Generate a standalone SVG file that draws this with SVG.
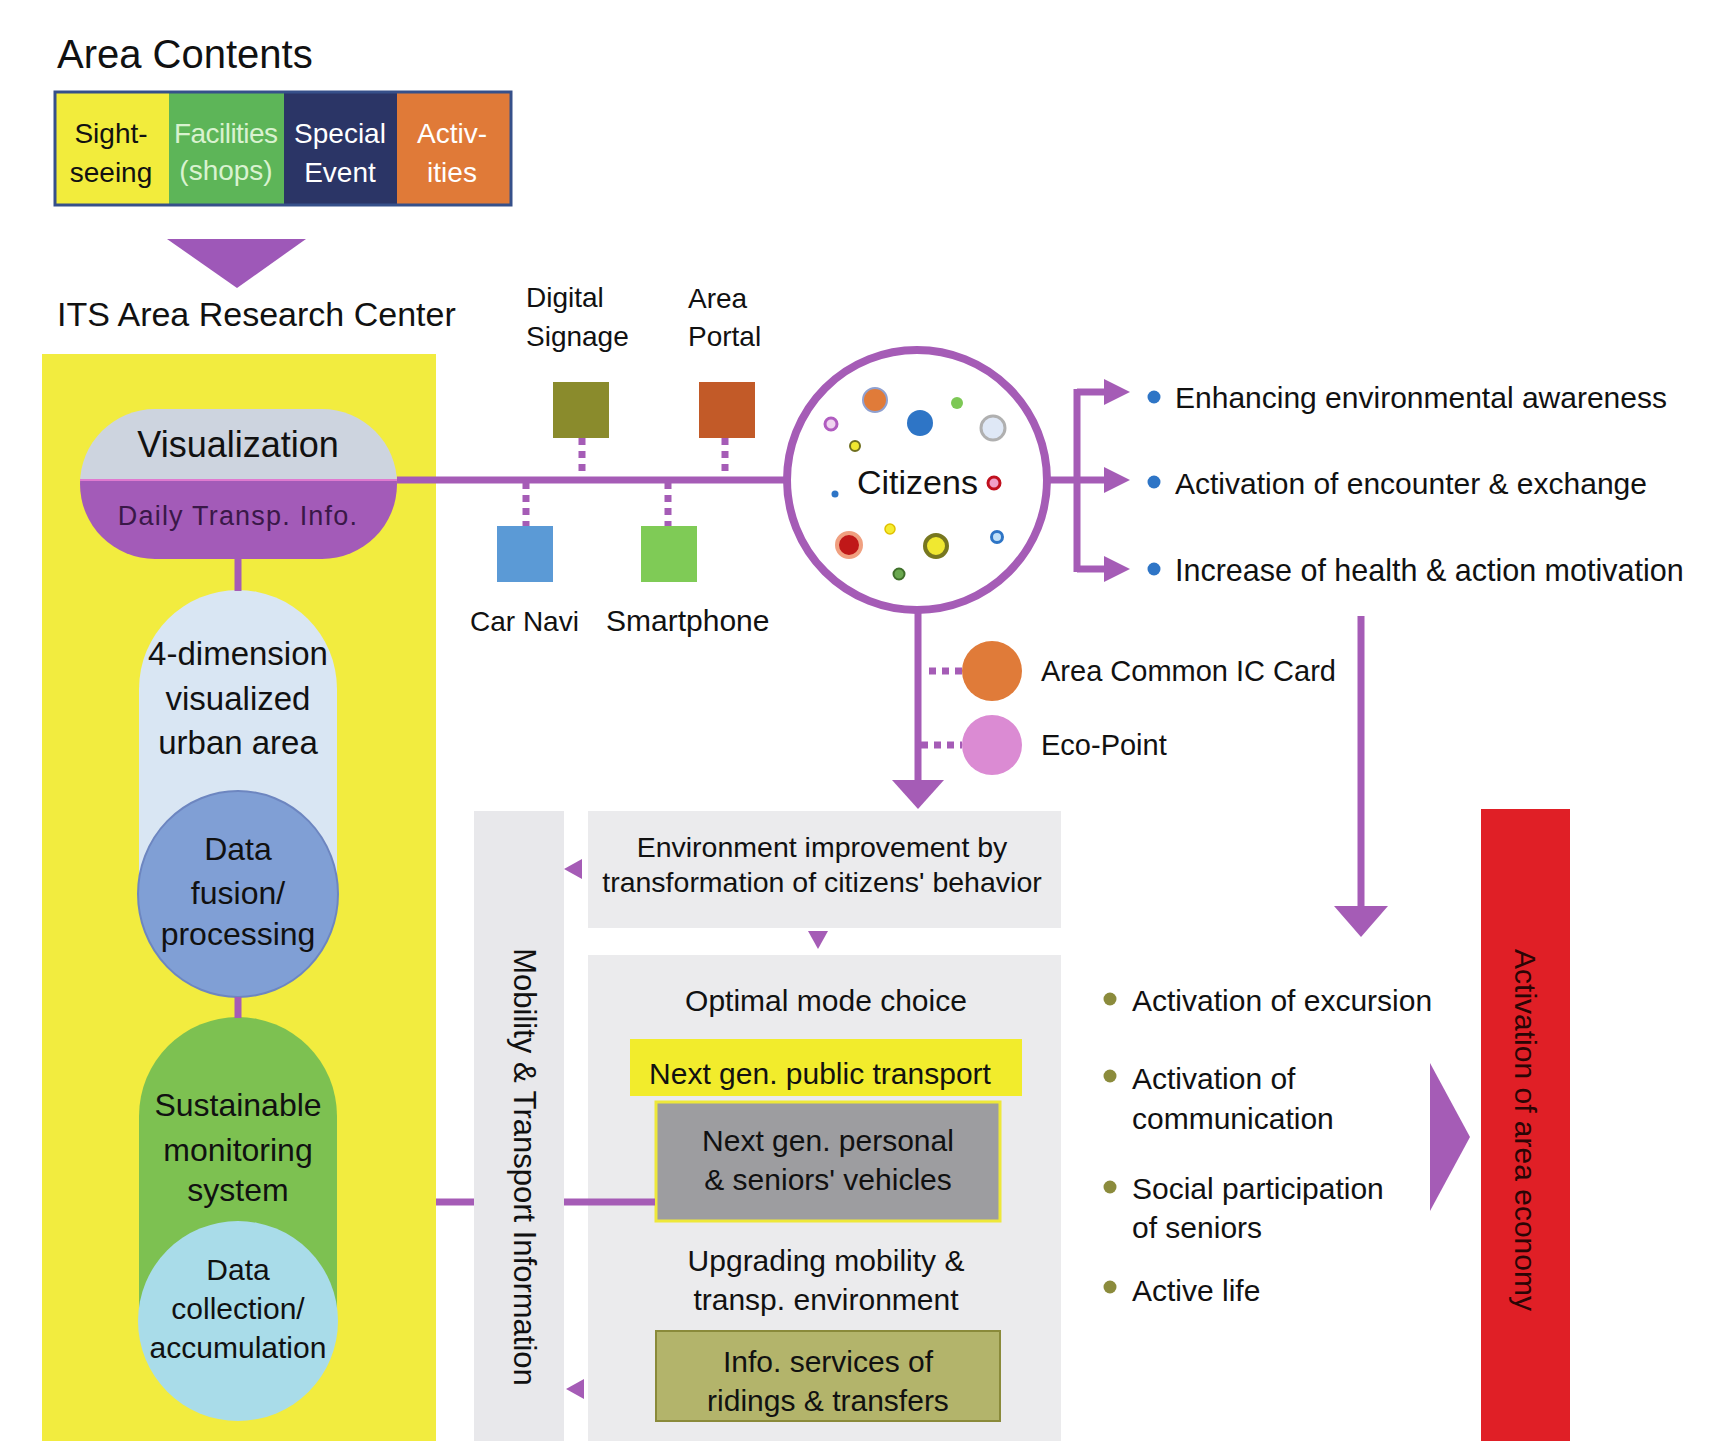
<svg xmlns="http://www.w3.org/2000/svg" width="1718" height="1441" viewBox="0 0 1718 1441">
<defs>
<style>
text{font-family:"Liberation Sans",Arial,sans-serif;fill:#111}
.pl{stroke:#a55cb6;stroke-width:7;fill:none}
.dot{stroke:#a55cb6;stroke-width:7;fill:none;stroke-dasharray:7 6}
.ah{fill:#a55cb6}
.t28{font-size:28px}
.t30{font-size:30px}
.t32{font-size:32px}
.c{text-anchor:middle}
.bb{fill:#2e75c6}
.bg{fill:#8b8b3c}
</style>
<clipPath id="pillclip"><rect x="80" y="409" width="317" height="150" rx="75"/></clipPath>
</defs>
<rect width="1718" height="1441" fill="#ffffff"/>

<g id="legend">
<text x="57" y="68" font-size="40">Area Contents</text>
<rect x="55" y="92" width="114" height="113" fill="#f2ec3c"/>
<rect x="169" y="92" width="115" height="113" fill="#5db558"/>
<rect x="284" y="92" width="113" height="113" fill="#2b3566"/>
<rect x="397" y="92" width="114" height="113" fill="#e07a38"/>
<rect x="55" y="92" width="456" height="113" fill="none" stroke="#36508a" stroke-width="3"/>
<text class="t28 c" x="111" y="143">Sight-</text>
<text class="t28 c" x="111" y="182">seeing</text>
<text class="t28 c" x="226" y="143" style="fill:#d9f2d0" textLength="104">Facilities</text>
<text class="t28 c" x="226" y="180" style="fill:#d9f2d0">(shops)</text>
<text class="t28 c" x="340" y="143" style="fill:#ffffff">Special</text>
<text class="t28 c" x="340" y="182" style="fill:#ffffff">Event</text>
<text class="t28 c" x="452" y="143" style="fill:#ffffff">Activ-</text>
<text class="t28 c" x="452" y="182" style="fill:#ffffff">ities</text>
<polygon points="167,239 306,239 237,288" fill="#9e58b8"/>
</g>

<g id="its-center">
<text x="57" y="326" font-size="34">ITS Area Research Center</text>
<rect x="42" y="354" width="394" height="1087" fill="#f2ec3f"/>
</g>

<g id="visualization">
<g clip-path="url(#pillclip)">
<rect x="80" y="409" width="317" height="71" fill="#cdd4df"/>
<rect x="80" y="480" width="317" height="79" fill="#a35bb8"/>
</g>
<line x1="80" y1="480" x2="397" y2="480" stroke="#e07ad0" stroke-width="2"/>
<text class="c" x="238" y="457" font-size="36">Visualization</text>
<text class="c" x="238" y="525" font-size="27" style="fill:#3a1848" letter-spacing="1.2">Daily Transp. Info.</text>
</g>

<g id="four-dimension">
<path d="M139,689 A99,99 0 0 1 337,689 L337,900 L139,900 Z" fill="#d9e6f3"/>
<text class="c" font-size="33" x="238" y="665">4-dimension</text>
<text class="c" font-size="33" x="238" y="710">visualized</text>
<text class="c" font-size="33" x="238" y="754">urban area</text>
</g>

<g id="data-fusion">
<ellipse cx="238" cy="894" rx="100" ry="103" fill="#809fd5" stroke="#6d86c0" stroke-width="2"/>
<text class="t32 c" x="238" y="860">Data</text>
<text class="t32 c" x="238" y="904">fusion/</text>
<text class="t32 c" x="238" y="945">processing</text>
</g>

<g id="sustainable">
<path d="M139,1116 A99,99 0 0 1 337,1116 L337,1320 L139,1320 Z" fill="#7dc151"/>
<text class="t32 c" x="238" y="1116">Sustainable</text>
<text class="t32 c" x="238" y="1161">monitoring</text>
<text class="t32 c" x="238" y="1201">system</text>
</g>

<g id="data-collection">
<circle cx="238" cy="1321" r="100" fill="#a9dce9"/>
<text class="t30 c" x="238" y="1280">Data</text>
<text class="t30 c" x="238" y="1319">collection/</text>
<text class="t30 c" x="238" y="1358">accumulation</text>
</g>

<g id="digital-signage">
<text class="t28" x="526" y="307">Digital</text>
<text class="t28" x="526" y="346">Signage</text>
<rect x="553" y="382" width="56" height="56" fill="#8a8b2c"/>
</g>
<g id="area-portal">
<text class="t28" x="688" y="308">Area</text>
<text class="t28" x="688" y="346">Portal</text>
<rect x="699" y="382" width="56" height="56" fill="#c25a28"/>
</g>
<g id="car-navi">
<rect x="497" y="526" width="56" height="56" fill="#5b9ad6"/>
<text class="t28" x="470" y="631">Car Navi</text>
</g>
<g id="smartphone">
<rect x="641" y="526" width="56" height="56" fill="#7fcb56"/>
<text class="t30" x="606" y="631">Smartphone</text>
</g>

<g id="citizens">
<circle cx="917" cy="480" r="130" fill="#ffffff" stroke="#a55cb6" stroke-width="8"/>
<circle cx="875" cy="400" r="12" fill="#e07b39" stroke="#8fa0d0" stroke-width="2"/>
<circle cx="957" cy="403" r="6" fill="#7dc855"/>
<circle cx="920" cy="423" r="13" fill="#2e75c6"/>
<circle cx="993" cy="428" r="12" fill="#dfe8f6" stroke="#b0b0b0" stroke-width="3"/>
<circle cx="831" cy="424" r="6" fill="#f0d4f0" stroke="#b05cc0" stroke-width="3"/>
<circle cx="855" cy="446" r="5" fill="#f0e830" stroke="#6f6f1f" stroke-width="2"/>
<circle cx="994" cy="483" r="6" fill="#f0a0c8" stroke="#c0101e" stroke-width="3"/>
<circle cx="835" cy="494" r="3.5" fill="#2e75c6"/>
<circle cx="849" cy="545" r="12" fill="#c01818" stroke="#f0a080" stroke-width="4"/>
<circle cx="890" cy="529" r="5" fill="#f5ec30" stroke="#e0c000" stroke-width="1.5"/>
<circle cx="936" cy="546" r="11" fill="#f0e830" stroke="#77771f" stroke-width="4"/>
<circle cx="997" cy="537" r="5.5" fill="#c0e0f8" stroke="#2e75c6" stroke-width="3"/>
<circle cx="899" cy="574" r="5.5" fill="#6aa84f" stroke="#3f6f2a" stroke-width="2"/>
<text x="857" y="494" font-size="34">Citizens</text>
</g>

<g id="effects-top">
<circle class="bb" cx="1154" cy="397" r="6.5"/>
<circle class="bb" cx="1154" cy="482" r="6.5"/>
<circle class="bb" cx="1154" cy="569" r="6.5"/>
<text class="t30" x="1175" y="408">Enhancing environmental awareness</text>
<text class="t30" x="1175" y="494">Activation of encounter &amp; exchange</text>
<text x="1175" y="581" font-size="30.5">Increase of health &amp; action motivation</text>
</g>

<g id="ic-card">
<circle cx="992" cy="671" r="30" fill="#e07b39"/>
<text x="1041" y="681" font-size="29">Area Common IC Card</text>
</g>
<g id="eco-point">
<circle cx="992" cy="745" r="30" fill="#db8bd3"/>
<text x="1041" y="755" font-size="29">Eco-Point</text>
</g>

<g id="mobility">
<rect x="474" y="811" width="90" height="630" fill="#e8e8eb"/>
<text class="c" font-size="31" transform="translate(514,1167) rotate(90)">Mobility &amp; Transport Information</text>
</g>

<g id="environment">
<rect x="588" y="811" width="473" height="117" fill="#ebebed"/>
<text class="c" font-size="28.5" x="822" y="857">Environment improvement by</text>
<text class="c" font-size="28.5" x="822" y="892">transformation of citizens' behavior</text>
</g>

<g id="mode-choice">
<rect x="588" y="955" width="473" height="486" fill="#ebebed"/>
<text class="t30 c" x="826" y="1011">Optimal mode choice</text>
<rect x="630" y="1039" width="392" height="57" fill="#f2ec2c"/>
<text class="t30 c" x="820" y="1084">Next gen. public transport</text>
<rect x="656" y="1102" width="344" height="119" fill="#9d9da0" stroke="#eee83a" stroke-width="3"/>
<text class="t30 c" x="828" y="1151">Next gen. personal</text>
<text class="t30 c" x="828" y="1190">&amp; seniors' vehicles</text>
<text class="t30 c" x="826" y="1271">Upgrading mobility &amp;</text>
<text class="t30 c" x="826" y="1310">transp. environment</text>
<rect x="656" y="1331" width="344" height="90" fill="#b3b46b" stroke="#8a8a3a" stroke-width="2"/>
<text class="t30 c" x="828" y="1372">Info. services of</text>
<text class="t30 c" x="828" y="1411">ridings &amp; transfers</text>
</g>

<g id="effects-bottom">
<circle class="bg" cx="1110" cy="999" r="6.5"/>
<circle class="bg" cx="1110" cy="1076" r="6.5"/>
<circle class="bg" cx="1110" cy="1187" r="6.5"/>
<circle class="bg" cx="1110" cy="1287" r="6.5"/>
<text class="t30" x="1132" y="1011">Activation of excursion</text>
<text class="t30" x="1132" y="1089">Activation of</text>
<text class="t30" x="1132" y="1129">communication</text>
<text class="t30" x="1132" y="1199">Social participation</text>
<text class="t30" x="1132" y="1238">of seniors</text>
<text class="t30" x="1132" y="1301">Active life</text>
</g>

<g id="area-economy">
<rect x="1481" y="809" width="89" height="632" fill="#e01f26"/>
<text class="c" font-size="30" style="fill:#2a0505" transform="translate(1515,1130) rotate(90)">Activation of area economy</text>
</g>

<g id="connectors">
<line class="pl" x1="397" y1="480" x2="787" y2="480"/>
<line class="pl" x1="238" y1="559" x2="238" y2="591"/>
<line class="pl" x1="238" y1="997" x2="238" y2="1018"/>
<line class="dot" x1="582" y1="438" x2="582" y2="478"/>
<line class="dot" x1="725" y1="438" x2="725" y2="478"/>
<line class="dot" x1="526" y1="482" x2="526" y2="526"/>
<line class="dot" x1="668" y1="482" x2="668" y2="526"/>
<polyline class="pl" points="1047,480 1077,480"/>
<line class="pl" x1="1077" y1="389" x2="1077" y2="572"/>
<line class="pl" x1="1077" y1="392" x2="1108" y2="392"/>
<line class="pl" x1="1077" y1="480" x2="1108" y2="480"/>
<line class="pl" x1="1077" y1="569" x2="1108" y2="569"/>
<polygon class="ah" points="1104,379 1130,392 1104,405"/>
<polygon class="ah" points="1104,467 1130,480 1104,493"/>
<polygon class="ah" points="1104,556 1130,569 1104,582"/>
<line class="pl" x1="918" y1="612" x2="918" y2="783"/>
<polygon class="ah" points="892,780 944,780 918,809"/>
<line class="dot" x1="929" y1="671" x2="962" y2="671"/>
<line class="dot" x1="921" y1="745" x2="962" y2="745"/>
<line class="pl" x1="1361" y1="616" x2="1361" y2="910"/>
<polygon class="ah" points="1334,906 1388,906 1361,937"/>
<line class="pl" x1="436" y1="1202" x2="474" y2="1202"/>
<line class="pl" x1="564" y1="1202" x2="655" y2="1202"/>
<polygon class="ah" points="564,869 582,859 582,879"/>
<polygon class="ah" points="808,931 828,931 818,949"/>
<polygon class="ah" points="566,1389 584,1379 584,1399"/>
<polygon class="ah" points="1430,1063 1470,1137 1430,1211"/>
</g>
</svg>
